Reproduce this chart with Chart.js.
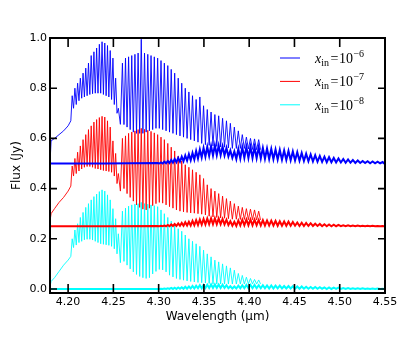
<!DOCTYPE html>
<html>
<head>
<meta charset="utf-8">
<script src="https://cdn.jsdelivr.net/npm/chart.js@4.4.1/dist/chart.umd.min.js"></script>
<style>
  body { margin: 0; background: #fff; }
  #wrap { width: 415px; height: 346px; }
</style>
</head>
<body>
<div id="wrap"><canvas id="fluxChart" width="415" height="346"></canvas></div>
<script>
// axis ticks
var xTicks = [4.20, 4.25, 4.30, 4.35, 4.40, 4.45, 4.50, 4.55];
var yTicks = [0.0, 0.2, 0.4, 0.6, 0.8, 1.0];
var legendExp = ["\u22126", "\u22127", "\u22128"];

// smooth part of each spectrum, short of the first resolved line
var contWl = [4.1800, 4.1812, 4.1850, 4.1900, 4.1950, 4.2000, 4.2030];
var blueCont = [0.50, 0.59, 0.60, 0.615, 0.63, 0.65, 0.67];
var redCont = [0.27, 0.30, 0.32, 0.345, 0.365, 0.39, 0.41];
var cyanCont = [0.01, 0.03, 0.045, 0.07, 0.095, 0.115, 0.13];

// line centres (R branch, then P branch)
var lineWl = [4.2045, 4.2075, 4.2105, 4.2135, 4.2165, 4.2195, 4.2225, 4.2255, 4.2285, 4.2315, 4.2345, 4.2375, 4.2405, 4.2435, 4.2465, 4.2495, 4.2525, 4.2555,
    4.2600, 4.2634, 4.2668, 4.2703, 4.2738, 4.2773, 4.2808, 4.2844, 4.2880, 4.2916, 4.2952, 4.2989, 4.3026, 4.3063, 4.3101, 4.3139, 4.3177, 4.3216, 4.3255, 4.3294,
    4.3334, 4.3374, 4.3414, 4.3455, 4.3496, 4.3537, 4.3579, 4.3621, 4.3663, 4.3706, 4.3749, 4.3792, 4.3836, 4.3880, 4.3924, 4.3969, 4.4014, 4.4059, 4.4105];

// peak flux at each line, and the minimum just after it
var bluePeak = [0.77, 0.80, 0.82, 0.84, 0.86, 0.88, 0.90, 0.93, 0.945, 0.96, 0.975, 0.985, 0.98, 0.97, 0.95, 0.92, 0.84, 0.72,
    0.90, 0.92, 0.925, 0.93, 0.935, 0.94, 0.995, 0.94, 0.935, 0.93, 0.925, 0.92, 0.91, 0.90, 0.89, 0.875, 0.86, 0.84, 0.82, 0.80,
    0.785, 0.77, 0.755, 0.765, 0.73, 0.715, 0.705, 0.695, 0.69, 0.68, 0.67, 0.66, 0.645, 0.63, 0.615, 0.605, 0.60, 0.598, 0.595];
var blueTrough = [0.72, 0.735, 0.75, 0.76, 0.765, 0.77, 0.775, 0.778, 0.78, 0.78, 0.78, 0.775, 0.77, 0.765, 0.755, 0.735, 0.70, 0.656,
    0.655, 0.645, 0.635, 0.625, 0.62, 0.62, 0.62, 0.625, 0.63, 0.635, 0.64, 0.64, 0.635, 0.63, 0.625, 0.62, 0.615, 0.61, 0.605, 0.60,
    0.595, 0.59, 0.585, 0.58, 0.575, 0.572, 0.57, 0.568, 0.566, 0.565, 0.562, 0.56, 0.56, 0.56, 0.56, 0.558, 0.556, 0.555, 0.555];

var redPeak = [0.49, 0.52, 0.545, 0.57, 0.595, 0.615, 0.635, 0.65, 0.665, 0.675, 0.683, 0.688, 0.685, 0.67, 0.645, 0.59, 0.54, 0.46,
    0.60, 0.61, 0.62, 0.625, 0.63, 0.635, 0.64, 0.636, 0.632, 0.628, 0.622, 0.615, 0.605, 0.595, 0.58, 0.565, 0.55, 0.53, 0.51, 0.495,
    0.485, 0.475, 0.465, 0.455, 0.44, 0.415, 0.40, 0.39, 0.38, 0.37, 0.36, 0.35, 0.34, 0.33, 0.325, 0.32, 0.318, 0.315, 0.31];
var redTrough = [0.45, 0.46, 0.47, 0.478, 0.485, 0.488, 0.488, 0.485, 0.48, 0.478, 0.475, 0.472, 0.47, 0.468, 0.465, 0.45, 0.42, 0.39,
    0.40, 0.38, 0.365, 0.35, 0.335, 0.325, 0.318, 0.315, 0.322, 0.332, 0.34, 0.345, 0.342, 0.335, 0.328, 0.322, 0.315, 0.31, 0.307, 0.305,
    0.303, 0.302, 0.30, 0.298, 0.295, 0.29, 0.287, 0.285, 0.283, 0.282, 0.28, 0.278, 0.278, 0.277, 0.277, 0.276, 0.276, 0.275, 0.275];

var cyanPeak = [0.20, 0.235, 0.26, 0.285, 0.305, 0.325, 0.34, 0.355, 0.368, 0.378, 0.388, 0.395, 0.39, 0.375, 0.355, 0.32, 0.28, 0.22,
    0.31, 0.322, 0.33, 0.335, 0.338, 0.34, 0.345, 0.34, 0.338, 0.335, 0.332, 0.328, 0.315, 0.30, 0.285, 0.27, 0.255, 0.24, 0.23, 0.215,
    0.20, 0.19, 0.18, 0.17, 0.155, 0.14, 0.128, 0.115, 0.108, 0.10, 0.092, 0.084, 0.075, 0.062, 0.054, 0.047, 0.042, 0.038, 0.036];
var cyanTrough = [0.165, 0.175, 0.185, 0.19, 0.196, 0.198, 0.198, 0.195, 0.19, 0.185, 0.18, 0.178, 0.176, 0.174, 0.17, 0.16, 0.14, 0.105,
    0.11, 0.095, 0.08, 0.068, 0.058, 0.05, 0.045, 0.042, 0.045, 0.06, 0.07, 0.078, 0.076, 0.068, 0.055, 0.048, 0.042, 0.038, 0.035, 0.032,
    0.03, 0.028, 0.026, 0.025, 0.024, 0.022, 0.02, 0.02, 0.02, 0.02, 0.02, 0.02, 0.02, 0.02, 0.02, 0.02, 0.02, 0.02, 0.02];

// the offset (0.5 / 0.25 / 0) curves: top and bottom of the ripple band
var baseWl = [4.1800,
    4.2989, 4.3026, 4.3063, 4.3101, 4.3139, 4.3177, 4.3216, 4.3255, 4.3294, 4.3334, 4.3374, 4.3414, 4.3455, 4.3496, 4.3537, 4.3579, 4.3621, 4.3663, 4.3706, 4.3749,
    4.3792, 4.3836, 4.3880, 4.3924, 4.3969, 4.4014, 4.4059, 4.4105,
    4.4151, 4.4197, 4.4244, 4.4291, 4.4338, 4.4386, 4.4434, 4.4482, 4.4531, 4.4580, 4.4629, 4.4679, 4.4729, 4.4780, 4.4831, 4.4882, 4.4934, 4.4986, 4.5039, 4.5092,
    4.5145, 4.5199, 4.5253, 4.5308, 4.5363, 4.5418, 4.5474,
    4.5500];
var blueBaseHi = [0.500,
    0.502, 0.504, 0.507, 0.510, 0.514, 0.518, 0.522, 0.527, 0.532, 0.537, 0.542, 0.550, 0.556, 0.562, 0.566, 0.570, 0.572, 0.571, 0.568, 0.562, 0.552, 0.548, 0.558, 0.564, 0.566, 0.566, 0.565, 0.564,
    0.562, 0.560, 0.558, 0.556, 0.554, 0.552, 0.550, 0.548, 0.545, 0.542, 0.539, 0.536, 0.533, 0.530, 0.527, 0.525, 0.522, 0.520, 0.518, 0.516, 0.514, 0.512, 0.510, 0.509, 0.508, 0.507, 0.506,
    0.505];
var blueBaseLo = [0.500,
    0.500, 0.500, 0.501, 0.502, 0.503, 0.505, 0.507, 0.509, 0.511, 0.513, 0.516, 0.520, 0.524, 0.527, 0.530, 0.532, 0.533, 0.533, 0.532, 0.528, 0.522, 0.518, 0.520, 0.522, 0.522, 0.522, 0.521, 0.520,
    0.519, 0.518, 0.517, 0.516, 0.515, 0.514, 0.513, 0.512, 0.511, 0.510, 0.509, 0.508, 0.507, 0.506, 0.505, 0.505, 0.504, 0.504, 0.503, 0.503, 0.502, 0.502, 0.502, 0.501, 0.501, 0.501, 0.501,
    0.500];
var redBaseHi = [0.250,
    0.251, 0.252, 0.253, 0.255, 0.257, 0.259, 0.261, 0.263, 0.266, 0.268, 0.271, 0.274, 0.277, 0.279, 0.281, 0.282, 0.282, 0.281, 0.279, 0.276, 0.270, 0.268, 0.273, 0.276, 0.277, 0.277, 0.276, 0.275,
    0.274, 0.273, 0.272, 0.271, 0.270, 0.269, 0.268, 0.267, 0.265, 0.264, 0.263, 0.262, 0.260, 0.259, 0.258, 0.257, 0.256, 0.255, 0.254, 0.254, 0.253, 0.253, 0.252, 0.252, 0.252, 0.251, 0.251,
    0.250];
var redBaseLo = [0.250,
    0.250, 0.250, 0.250, 0.250, 0.251, 0.251, 0.252, 0.252, 0.253, 0.253, 0.254, 0.255, 0.256, 0.257, 0.258, 0.258, 0.258, 0.258, 0.257, 0.255, 0.252, 0.251, 0.253, 0.254, 0.254, 0.254, 0.254, 0.253,
    0.253, 0.253, 0.253, 0.252, 0.252, 0.252, 0.252, 0.252, 0.251, 0.251, 0.251, 0.251, 0.251, 0.250, 0.250, 0.250, 0.250, 0.250, 0.250, 0.250, 0.250, 0.250, 0.250, 0.250, 0.250, 0.250, 0.250,
    0.250];
var cyanBaseHi = [0.000,
    0.000, 0.001, 0.002, 0.003, 0.004, 0.005, 0.006, 0.007, 0.009, 0.010, 0.012, 0.013, 0.015, 0.016, 0.017, 0.018, 0.018, 0.018, 0.017, 0.015, 0.011, 0.010, 0.013, 0.015, 0.016, 0.016, 0.016, 0.015,
    0.015, 0.014, 0.014, 0.013, 0.013, 0.012, 0.012, 0.011, 0.010, 0.010, 0.009, 0.008, 0.008, 0.007, 0.006, 0.006, 0.005, 0.005, 0.004, 0.004, 0.003, 0.003, 0.003, 0.002, 0.002, 0.002, 0.001,
    0.000];
var cyanBaseLo = [0.000,
    0.000, 0.000, 0.000, 0.000, 0.000, 0.000, 0.001, 0.001, 0.001, 0.002, 0.002, 0.003, 0.003, 0.004, 0.004, 0.004, 0.004, 0.004, 0.004, 0.003, 0.002, 0.002, 0.003, 0.003, 0.003, 0.003, 0.003, 0.003,
    0.003, 0.002, 0.002, 0.002, 0.002, 0.002, 0.002, 0.001, 0.001, 0.001, 0.001, 0.001, 0.001, 0.001, 0.000, 0.000, 0.000, 0.000, 0.000, 0.000, 0.000, 0.000, 0.000, 0.000, 0.000, 0.000, 0.000,
    0.000];

// spectrum: smooth start, then peak at each line and a dip halfway to the next
function buildSpectrum(cont, peak, trough) {
    var pts = [];
    contWl.forEach(function(w, i) { pts.push({ x: w, y: cont[i] }); });
    lineWl.forEach(function(w, i) {
        var next = i < lineWl.length - 1 ? lineWl[i + 1] : w + 0.004;
        pts.push({ x: w, y: peak[i] });
        pts.push({ x: (w + next) / 2, y: trough[i] });
    });
    return pts;
}

function buildBaseline(hi, lo) {
    var pts = [];
    baseWl.forEach(function(w, i) {
        var next = i < baseWl.length - 1 ? baseWl[i + 1] : w + 0.004;
        pts.push({ x: w, y: hi[i] });
        pts.push({ x: (w + next) / 2, y: lo[i] });
    });
    return pts;
}

function lineSet(data, color, width) {
    return { data: data, borderColor: color, borderWidth: width, pointRadius: 0, showLine: true, tension: 0, fill: false };
}

// inward ticks on all four sides plus the box
var frameTicks = {
    id: 'frameTicks',
    afterDraw: function(chart) {
        var ctx = chart.ctx, a = chart.chartArea, xs = chart.scales.x, ys = chart.scales.y;
        ctx.save();
        ctx.strokeStyle = '#000';
        ctx.lineWidth = 1.6;
        xTicks.forEach(function(v) {
            var px = xs.getPixelForValue(v);
            ctx.beginPath();
            ctx.moveTo(px, a.bottom); ctx.lineTo(px, a.bottom - 9);
            ctx.moveTo(px, a.top); ctx.lineTo(px, a.top + 9);
            ctx.stroke();
        });
        yTicks.forEach(function(v) {
            var py = ys.getPixelForValue(v);
            ctx.beginPath();
            ctx.moveTo(a.left, py); ctx.lineTo(a.left + 7, py);
            ctx.moveTo(a.right, py); ctx.lineTo(a.right - 7, py);
            ctx.stroke();
        });
        ctx.lineWidth = 2;
        ctx.strokeRect(a.left, a.top, a.right - a.left, a.bottom - a.top);
        ctx.restore();
    }
};

// legend with subscript / superscript
var mathLegend = {
    id: 'mathLegend',
    afterDraw: function(chart) {
        var ctx = chart.ctx, a = chart.chartArea;
        var colors = ['#0000ff', '#ff0000', '#00ffff'];
        ctx.save();
        ctx.fillStyle = '#000';
        ctx.textBaseline = 'alphabetic';
        legendExp.forEach(function(exp, i) {
            var y = a.top + 20 + i * 23.4;
            ctx.strokeStyle = colors[i];
            ctx.lineWidth = 1;
            ctx.beginPath();
            ctx.moveTo(a.right - 105, y); ctx.lineTo(a.right - 85, y);
            ctx.stroke();
            var x = a.right - 70;
            ctx.font = 'italic 14px "Liberation Serif"';
            ctx.fillText('x', x, y + 5);
            x += ctx.measureText('x').width;
            ctx.font = '10px "Liberation Serif"';
            ctx.fillText('in', x, y + 8);
            x += ctx.measureText('in').width + 1.5;
            ctx.font = '14px "Liberation Serif"';
            ctx.fillText('=', x, y + 5);
            x += ctx.measureText('=').width + 0.5;
            ctx.fillText('10', x, y + 5);
            x += ctx.measureText('10').width + 0.5;
            ctx.font = '10px "Liberation Serif"';
            ctx.fillText(exp, x, y - 1);
        });
        ctx.restore();
    }
};

var tickFont = { family: 'DejaVu Sans', size: 11 };
var titleFont = { family: 'DejaVu Sans', size: 12 };

new Chart(document.getElementById('fluxChart'), {
    type: 'scatter',
    data: {
        datasets: [
            lineSet(buildBaseline(cyanBaseHi, cyanBaseLo), '#00ffff', 2),
            lineSet(buildBaseline(redBaseHi, redBaseLo), '#ff0000', 2),
            lineSet(buildBaseline(blueBaseHi, blueBaseLo), '#0000ff', 2),
            lineSet(buildSpectrum(cyanCont, cyanPeak, cyanTrough), '#00ffff', 0.9),
            lineSet(buildSpectrum(redCont, redPeak, redTrough), '#ff0000', 0.9),
            lineSet(buildSpectrum(blueCont, bluePeak, blueTrough), '#0000ff', 0.9)
        ]
    },
    options: {
        responsive: false,
        animation: false,
        events: [],
        layout: { padding: { top: 38, right: 30, left: 0, bottom: 0 } },
        plugins: { legend: { display: false }, tooltip: { enabled: false } },
        scales: {
            x: {
                type: 'linear', min: 4.18, max: 4.55,
                grid: { display: false, drawTicks: false },
                border: { display: false },
                afterBuildTicks: function(scale) { scale.ticks = xTicks.map(function(v) { return { value: v }; }); },
                afterFit: function(scale) { scale.height = 53; },
                ticks: { color: '#000', font: tickFont, padding: 3, maxRotation: 0, autoSkip: false,
                    callback: function(v) { return v.toFixed(2); } },
                title: { display: true, text: 'Wavelength (\u03bcm)', color: '#000', font: titleFont, padding: { top: 0, bottom: 22 } }
            },
            y: {
                type: 'linear', min: -0.016, max: 1.0,
                grid: { display: false, drawTicks: false },
                border: { display: false },
                afterBuildTicks: function(scale) { scale.ticks = yTicks.map(function(v) { return { value: v }; }); },
                afterFit: function(scale) { scale.width = 50; },
                ticks: { color: '#000', font: tickFont, padding: 3, autoSkip: false,
                    callback: function(v) { return v.toFixed(1); } },
                title: { display: true, text: 'Flux (Jy)', color: '#000', font: titleFont, padding: { top: 10, bottom: 0 } }
            }
        }
    },
    plugins: [frameTicks, mathLegend]
});
</script>
</body>
</html>
